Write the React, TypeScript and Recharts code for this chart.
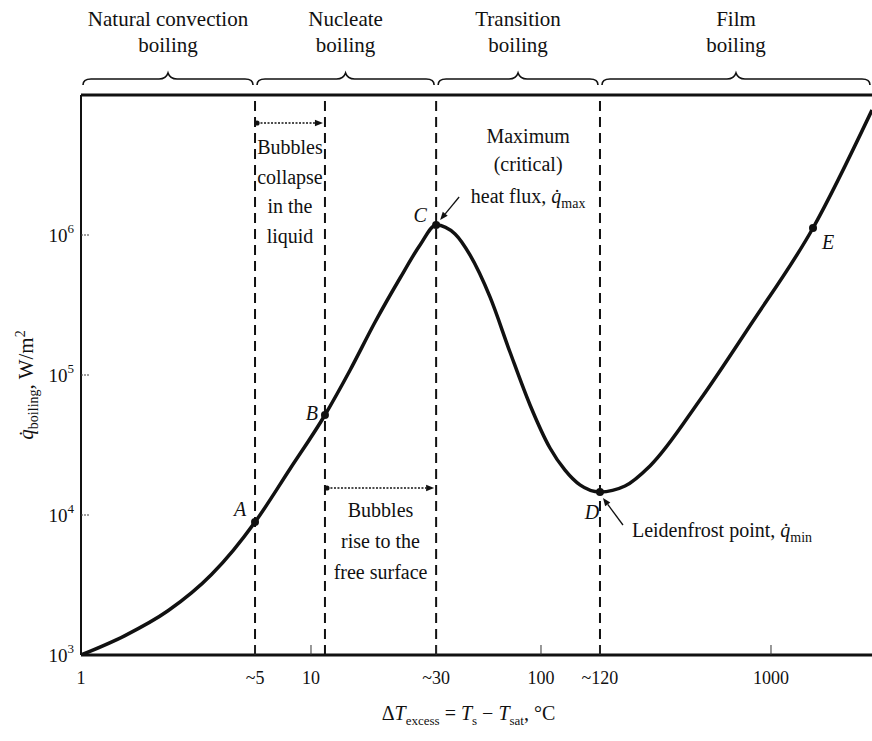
import React from 'react';
import { ComposedChart, Line, Scatter, XAxis, YAxis, ReferenceLine, ReferenceArea } from 'recharts';

const FONT = '"Liberation Serif", "Times New Roman", serif';
const INK = '#111';

// Boiling curve: excess temperature (°C) and heat flux (W/m²)
const curveDeltaT = [1, 1.546, 2.389, 3.693, 4.592, 5.71, 8.1, 11.5, 14.8, 19.0, 24.4, 29.8, 35.0, 42.3, 49.1, 60.0, 73.3, 89.6, 109.4, 127.2, 147.7, 180.5, 231.8, 297.8, 491, 810, 1523, 2749];
const curveFlux = [1000, 1371, 2069, 3758, 5598, 8900, 21300, 51800, 108600, 239000, 493000, 848000, 1179000, 1016000, 720000, 361000, 146000, 61100, 30100, 20900, 16400, 14600, 16100, 22400, 66300, 225000, 1122000, 7800000];

// Labelled points
const pointNames = ['A', 'B', 'C', 'D', 'E'];
const pointDeltaT = [5.71, 11.5, 35.0, 180.5, 1523];
const pointFlux = [8900, 51800, 1179000, 14600, 1122000];

// Regimes
const regimeTitles = [['Natural convection', 'boiling'], ['Nucleate', 'boiling'], ['Transition', 'boiling'], ['Film', 'boiling']];
const regimeEdges = [1, 5.71, 35.0, 180.5, 2749];
const dashedDeltaT = [5.71, 11.5, 35.0, 180.5];

// Axes
const xDomain = [1, 2749];
const yDomain = [1e3, 1e7];
const xTickValues = [1, 5.71, 10, 35.0, 100, 180.5, 1000];
const xTickLabels = ['1', '~5', '10', '~30', '100', '~120', '1000'];
const yTickValues = [1e3, 1e4, 1e5, 1e6];
const yTickExponents = ['3', '4', '5', '6'];

const curveData = curveDeltaT.map((t, i) => ({ dT: t, q: curveFlux[i] }));
const pointData = pointNames.map((n, i) => ({ name: n, dT: pointDeltaT[i], q: pointFlux[i] }));

const labelOffsets: Record<string, [number, number]> = {
  A: [-15, -13], B: [-13, -2], C: [-16, -10], D: [-8, 20], E: [15, 14],
};

const Arrow = ({ x1, y1, x2, y2, dotted = false, startDot = false }: any) => {
  const a = Math.atan2(y2 - y1, x2 - x1);
  const L = 8, W = 3.2;
  const bx = x2 - L * Math.cos(a), by = y2 - L * Math.sin(a);
  const p1 = `${bx - W * Math.sin(a)},${by + W * Math.cos(a)}`;
  const p2 = `${bx + W * Math.sin(a)},${by - W * Math.cos(a)}`;
  return (
    <g>
      <line x1={x1} y1={y1} x2={bx} y2={by} stroke={INK} strokeWidth={1.3} strokeDasharray={dotted ? '2 1.5' : undefined} />
      <polygon points={`${x2},${y2} ${p1} ${p2}`} fill={INK} />
      {startDot && <circle cx={x1} cy={y1} r={2.6} fill={INK} />}
    </g>
  );
};

const Qdot = ({ sub }: { sub: string }) => (
  <>
    <tspan fontStyle="italic">{'q\u0307'}</tspan>
    <tspan dy={5} fontSize={14}>{sub}</tspan>
  </>
);

const BraceLabel = (props: any) => {
  const { viewBox, lines } = props;
  if (!viewBox) return null;
  const x1 = viewBox.x + 2;
  const x2 = viewBox.x + viewBox.width - 2;
  const xm = (x1 + x2) / 2;
  const y = viewBox.y - 16;
  const d = `M${x1},${y + 6} Q${x1},${y} ${x1 + 8},${y} L${xm - 9},${y} Q${xm - 2},${y} ${xm},${y - 6} Q${xm + 2},${y} ${xm + 9},${y} L${x2 - 8},${y} Q${x2},${y} ${x2},${y + 6}`;
  return (
    <g>
      <path d={d} fill="none" stroke={INK} strokeWidth={1.6} />
      <text x={xm} y={viewBox.y - 69} textAnchor="middle" fontFamily={FONT} fontSize={21} fill={INK}>{lines[0]}</text>
      <text x={xm} y={viewBox.y - 43} textAnchor="middle" fontFamily={FONT} fontSize={21} fill={INK}>{lines[1]}</text>
    </g>
  );
};

const MultiText = ({ x, y, lines, gap }: any) => (
  <g>
    {lines.map((l: string, i: number) => (
      <text key={i} x={x} y={y + i * gap} textAnchor="middle" fontFamily={FONT} fontSize={20} fill={INK}>{l}</text>
    ))}
  </g>
);

const CollapseLabel = (props: any) => {
  const { viewBox } = props;
  if (!viewBox) return null;
  const xl = viewBox.x + 2, xr = viewBox.x + viewBox.width - 2;
  const xm = (xl + xr) / 2;
  const ay = viewBox.y + 28;
  return (
    <g>
      <Arrow x1={xl} y1={ay} x2={xr} y2={ay} dotted startDot />
      <MultiText x={xm} y={viewBox.y + 59} gap={29.5} lines={['Bubbles', 'collapse', 'in the', 'liquid']} />
    </g>
  );
};

const RiseLabel = (props: any) => {
  const { viewBox } = props;
  if (!viewBox) return null;
  const xl = viewBox.x + 2, xr = viewBox.x + viewBox.width - 2;
  const xm = (xl + xr) / 2;
  const ay = viewBox.y + 393;
  return (
    <g>
      <Arrow x1={xl} y1={ay} x2={xr} y2={ay} dotted startDot />
      <MultiText x={xm} y={viewBox.y + 422} gap={31} lines={['Bubbles', 'rise to the', 'free surface']} />
    </g>
  );
};

const PointShape = (props: any) => {
  const { cx, cy, payload } = props;
  if (cx == null || cy == null) return null;
  const name = payload.name as string;
  const [dx, dy] = labelOffsets[name];
  return (
    <g>
      <circle cx={cx} cy={cy} r={4} fill={INK} />
      <text x={cx + dx} y={cy + dy} textAnchor="middle" dominantBaseline="central" fontFamily={FONT} fontStyle="italic" fontSize={20} fill={INK}>{name}</text>
      {name === 'C' && (
        <g>
          <MultiText x={cx + 92} y={cy - 82} gap={28} lines={['Maximum', '(critical)']} />
          <text x={cx + 92} y={cy - 22} textAnchor="middle" fontFamily={FONT} fontSize={20} fill={INK}>
            {'heat flux, '}<Qdot sub="max" />
          </text>
          <Arrow x1={cx + 23} y1={cy - 28} x2={cx + 4} y2={cy - 5} />
        </g>
      )}
      {name === 'D' && (
        <g>
          <text x={cx + 32} y={cy + 45} textAnchor="start" fontFamily={FONT} fontSize={20} fill={INK}>
            {'Leidenfrost point, '}<Qdot sub="min" />
          </text>
          <Arrow x1={cx + 23} y1={cy + 33} x2={cx + 3} y2={cy + 6} />
        </g>
      )}
    </g>
  );
};

const XTick = (props: any) => {
  const { x, y, payload } = props;
  const i = xTickValues.indexOf(payload.value);
  const label = i >= 0 ? xTickLabels[i] : String(payload.value);
  return (
    <g>
      {i > 0 && <line x1={x} x2={x} y1={y} y2={y - 10} stroke="#333" strokeWidth={1} />}
      <text x={x} y={y + 29} textAnchor="middle" fontFamily={FONT} fontSize={18} fill={INK}>{label}</text>
    </g>
  );
};

const YTick = (props: any) => {
  const { x, y, payload } = props;
  const i = yTickValues.indexOf(payload.value);
  return (
    <g>
      {i > 0 && <line x1={x} x2={x + 9} y1={y} y2={y} stroke="#444" strokeWidth={1} strokeDasharray="2 1" />}
      <text x={x - 7} y={y + 7} textAnchor="end" fontFamily={FONT} fontSize={19} fill={INK}>
        10<tspan dy={-9} fontSize={13}>{yTickExponents[i]}</tspan>
      </text>
    </g>
  );
};

const YTitle = (props: any) => {
  const { viewBox } = props;
  if (!viewBox) return null;
  const cx = viewBox.x + 33;
  const cy = viewBox.y + viewBox.height / 2 + 10;
  return (
    <text x={cx} y={cy} transform={`rotate(-90, ${cx}, ${cy})`} textAnchor="middle" fontFamily={FONT} fontSize={21} fill={INK}>
      <tspan fontStyle="italic">{'q\u0307'}</tspan>
      <tspan dy={5} fontSize={14}>boiling</tspan>
      <tspan dy={-5}>{', W/m'}</tspan>
      <tspan dy={-8} fontSize={14}>2</tspan>
    </text>
  );
};

const XTitle = (props: any) => {
  const { viewBox } = props;
  if (!viewBox) return null;
  const cx = viewBox.x + viewBox.width / 2 - 8;
  const cy = viewBox.y + 65;
  return (
    <text x={cx} y={cy} textAnchor="middle" fontFamily={FONT} fontSize={20} fill={INK}>
      {'Δ'}<tspan fontStyle="italic">T</tspan>
      <tspan dy={5} fontSize={13}>excess</tspan>
      <tspan dy={-5}>{' = '}</tspan><tspan fontStyle="italic">T</tspan>
      <tspan dy={5} fontSize={13}>s</tspan>
      <tspan dy={-5}>{' − '}</tspan><tspan fontStyle="italic">T</tspan>
      <tspan dy={5} fontSize={13}>sat</tspan>
      <tspan dy={-5}>{', °C'}</tspan>
    </text>
  );
};

export default function App() {
  return (
    <div style={{ position: 'absolute', left: 0, top: 0, width: 872, height: 741, background: '#fff' }}>
      <ComposedChart width={872} height={741} margin={{ top: 95, right: 0, bottom: 0, left: 0 }}>
        <XAxis
          dataKey="dT" type="number" scale="log" domain={xDomain} allowDataOverflow
          ticks={xTickValues} interval={0} tickSize={0} tickMargin={0} height={86}
          tick={<XTick />} axisLine={{ stroke: INK, strokeWidth: 3 }} tickLine={false}
          label={<XTitle />}
        />
        <YAxis
          dataKey="q" type="number" scale="log" domain={yDomain} allowDataOverflow
          ticks={yTickValues} interval={0} tickSize={0} tickMargin={0} width={81}
          tick={<YTick />} axisLine={{ stroke: INK, strokeWidth: 2 }} tickLine={false}
          label={<YTitle />}
        />
        <ReferenceLine y={yDomain[1]} stroke={INK} strokeWidth={3} ifOverflow="visible" />
        {regimeTitles.map((t, i) => (
          <ReferenceArea key={'r' + i} x1={regimeEdges[i]} x2={regimeEdges[i + 1]} fill="none" fillOpacity={0} stroke="none" ifOverflow="visible" label={<BraceLabel lines={t} />} />
        ))}
        {dashedDeltaT.map((v, i) => (
          <ReferenceLine key={'d' + i} x={v} stroke={INK} strokeWidth={2} strokeDasharray="10 6" />
        ))}
        <ReferenceArea x1={dashedDeltaT[0]} x2={dashedDeltaT[1]} fill="none" fillOpacity={0} stroke="none" ifOverflow="visible" label={<CollapseLabel />} />
        <ReferenceArea x1={dashedDeltaT[1]} x2={dashedDeltaT[2]} fill="none" fillOpacity={0} stroke="none" ifOverflow="visible" label={<RiseLabel />} />
        <Line data={curveData} dataKey="q" type="monotone" stroke={INK} strokeWidth={3.5} dot={false} activeDot={false} isAnimationActive={false} />
        <Scatter data={pointData} dataKey="q" shape={<PointShape />} isAnimationActive={false} />
      </ComposedChart>
    </div>
  );
}
